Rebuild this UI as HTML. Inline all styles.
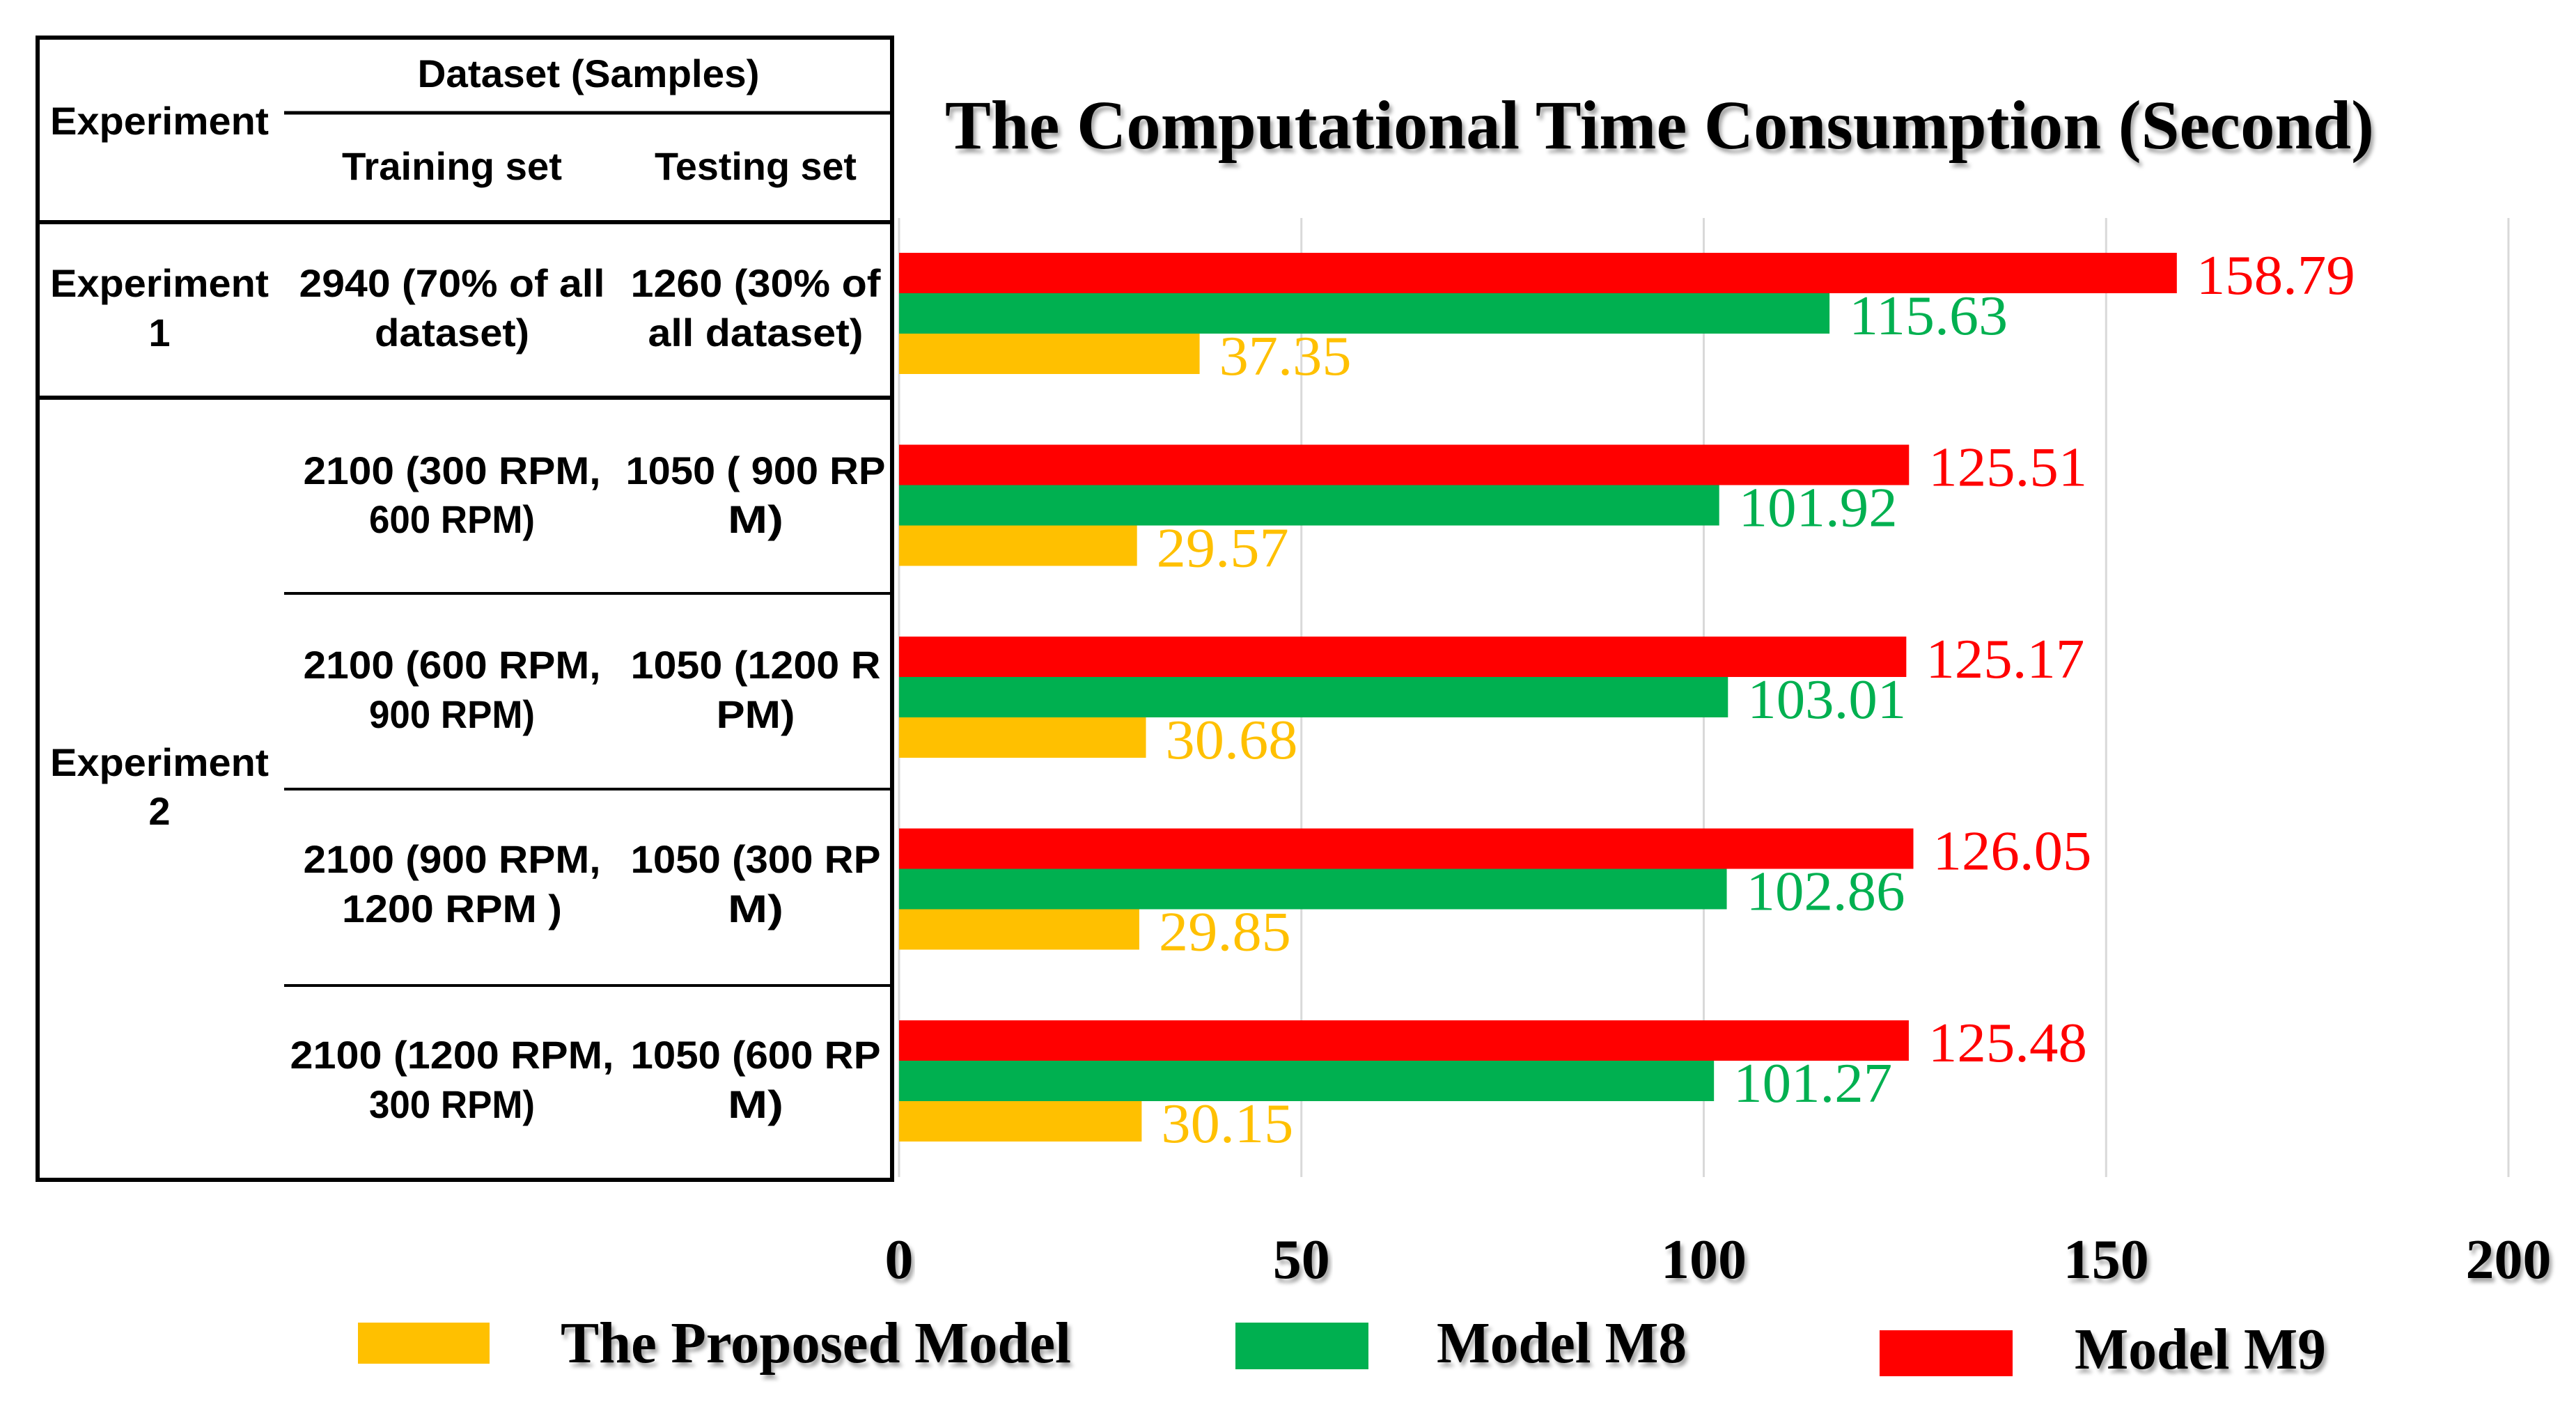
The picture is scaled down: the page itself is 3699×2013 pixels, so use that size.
<!DOCTYPE html>
<html><head><meta charset="utf-8"><style>
html,body{margin:0;padding:0;background:#fff;}
svg{display:block;}
.tb{font-family:"Liberation Sans",sans-serif;font-weight:bold;font-size:56px;fill:#000;}
.sf{font-family:"Liberation Serif",serif;font-weight:bold;}
</style></head><body>
<svg id="c" width="3699" height="2013" viewBox="0 0 3699 2013" xmlns="http://www.w3.org/2000/svg">
<defs><filter id="sh" x="-5%" y="-20%" width="110%" height="150%"><feDropShadow dx="4" dy="6" stdDeviation="3" flood-color="#000" flood-opacity="0.35"/></filter></defs>
<g id="table">
<rect x="54" y="54" width="1227" height="1640" fill="none" stroke="#000" stroke-width="6"/>
<line x1="408" y1="162" x2="1281" y2="162" stroke="#000" stroke-width="5"/>
<line x1="54" y1="319" x2="1281" y2="319" stroke="#000" stroke-width="6"/>
<line x1="54" y1="571" x2="1281" y2="571" stroke="#000" stroke-width="6"/>
<line x1="408" y1="852" x2="1281" y2="852" stroke="#000" stroke-width="4"/>
<line x1="408" y1="1133" x2="1281" y2="1133" stroke="#000" stroke-width="4"/>
<line x1="408" y1="1415" x2="1281" y2="1415" stroke="#000" stroke-width="4"/>
</g>
<g id="tabletext" text-anchor="middle"></g>
<text class="sf" x="2383" y="213" font-size="100" text-anchor="middle" textLength="2052" lengthAdjust="spacingAndGlyphs" filter="url(#sh)">The Computational Time Consumption (Second)</text>
<g id="grid"></g>
<g id="bars"></g>
<g id="ticks"></g>
<g id="legend"></g>
</svg>
<script>
const NS='http://www.w3.org/2000/svg';
const svg=document.getElementById('c');
const categories=['Experiment 1','Experiment 2a','Experiment 2b','Experiment 2c','Experiment 2d'];
const proposedValues=[37.35,29.57,30.68,29.85,30.15];
const m8Values=[115.63,101.92,103.01,102.86,101.27];
const m9Values=[158.79,125.51,125.17,126.05,125.48];
const tickValues=[0,50,100,150,200];
const tickLabels=['0','50','100','150','200'];

const X0=1291,X1=3602,VMAX=200;
function xs(v){return X0+(X1-X0)*v/VMAX;}
const groupTop=363,groupPitch=275.5,barH=58;
function mk(tag,attrs,parent){const e=document.createElementNS(NS,tag);for(const k in attrs)e.setAttribute(k,attrs[k]);parent.appendChild(e);return e;}

const tt=document.getElementById('tabletext');
const cells=[
 ['Experiment',229,193,133],['Dataset (Samples)',845,125,208],['Training set',649,258,134],['Testing set',1085,258,123],
 ['Experiment',229,426,133],['1',229,497,0],['2940 (70% of all',649,426,186],['dataset)',649,497,94],['1260 (30% of',1085,426,152],['all dataset)',1085,497,131],
 ['2100 (300 RPM,',649,695,181],['600 RPM)',649,765,101],['1050 ( 900 RP',1085,695,158],['M)',1085,765,34],
 ['2100 (600 RPM,',649,974,181],['900 RPM)',649,1045,101],['1050 (1200 R',1085,974,152],['PM)',1085,1045,48],
 ['Experiment',229,1114,133],['2',229,1184,0],
 ['2100 (900 RPM,',649,1253,181],['1200 RPM )',649,1324,134],['1050 (300 RP',1085,1253,152],['M)',1085,1324,34],
 ['2100 (1200 RPM,',649,1534,197],['300 RPM)',649,1605,101],['1050 (600 RP',1085,1534,152],['M)',1085,1605,34]
];
cells.forEach(c=>{
 const t=mk('text',{class:'tb',x:c[1],y:c[2]},tt);
 if(c[3])t.setAttribute('textLength',(c[3]*2.359).toFixed(0)),t.setAttribute('lengthAdjust','spacingAndGlyphs');
 t.textContent=c[0];
 
 
});

const g=document.getElementById('grid');
tickValues.forEach(v=>{
 const l=mk('line',{x1:xs(v),x2:xs(v),y1:313,y2:1690,stroke:'#d9d9d9','stroke-width':3},g);
 
 
});
const tk=document.getElementById('ticks');
tickValues.forEach((v,i)=>{
 const t=mk('text',{class:'sf',x:xs(v),y:1835,'font-size':80,'text-anchor':'middle',textLength:tickLabels[i].length*41,lengthAdjust:'spacingAndGlyphs',filter:'url(#sh)'},tk);
 t.textContent=tickLabels[i];
 
 
});
const b=document.getElementById('bars');
const series=[[m9Values,'#FF0000','m9'],[m8Values,'#00B050','m8'],[proposedValues,'#FFC000','proposed']];
categories.forEach((cat,i)=>{
 series.forEach((s,j)=>{
  const v=s[0][i],y=groupTop+i*groupPitch+j*barH;
  const r=mk('rect',{x:X0,y:y,width:xs(v)-X0,height:barH,fill:s[1]},b);
  
  
  const lab=v.toFixed(2);
  const t=mk('text',{x:xs(v)+28,y:y+barH/2+30,'font-size':80,fill:s[1],'font-family':'"Liberation Serif",serif',textLength:lab.length*38,lengthAdjust:'spacingAndGlyphs'},b);
  t.textContent=lab;
  
  
 });
});
const lg=document.getElementById('legend');
const legendItems=[['The Proposed Model','#FFC000',514,1899,189,59,805,1956,733],['Model M8','#00B050',1774,1899,191,67,2063,1956,359],['Model M9','#FF0000',2699,1910,191,66,2979,1965,361]];
legendItems.forEach(it=>{
 const r=mk('rect',{x:it[2],y:it[3],width:it[4],height:it[5],fill:it[1]},lg);
 
 
 const t=mk('text',{class:'sf',x:it[6],y:it[7],'font-size':84,textLength:it[8],lengthAdjust:'spacingAndGlyphs',filter:'url(#sh)'},lg);
 t.textContent=it[0];
 
 
});
</script>
</body></html>
